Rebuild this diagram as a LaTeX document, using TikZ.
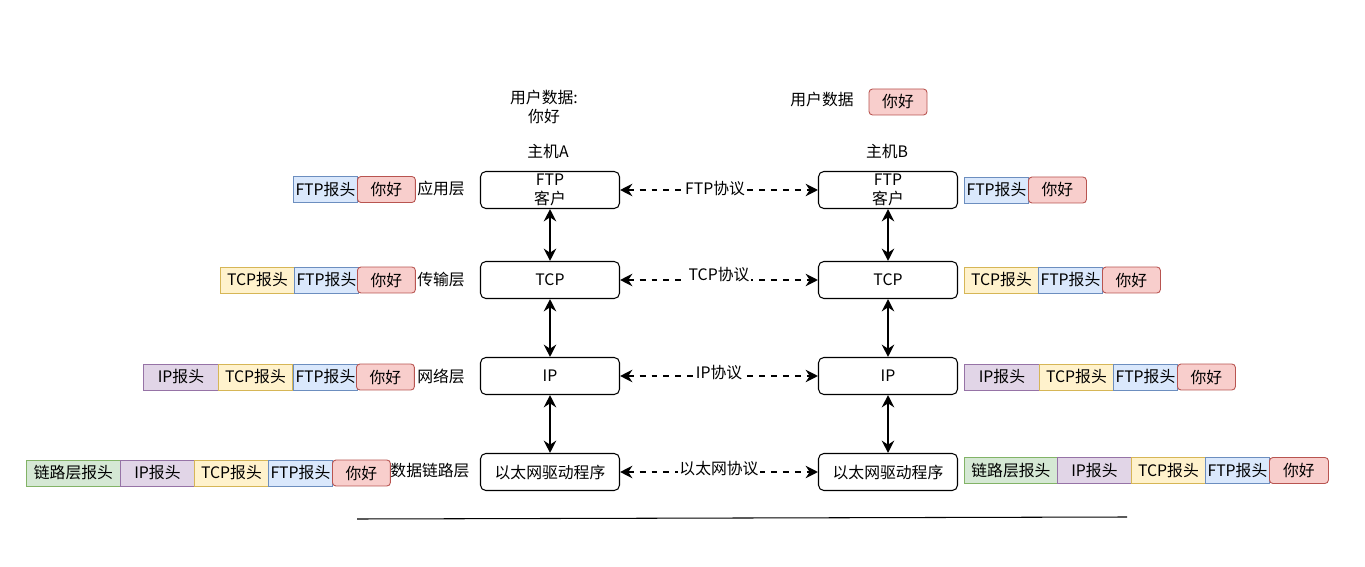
\documentclass[tikz,border=0pt]{standalone}
\usepackage{fontspec}
\setmainfont{Noto Sans CJK SC}
\usetikzlibrary{arrows.meta}
\definecolor{linkfill}{HTML}{D5E8D4}\definecolor{linkdraw}{HTML}{82B366}
\definecolor{ipfill}{HTML}{E1D5E7}\definecolor{ipdraw}{HTML}{9673A6}
\definecolor{tcpfill}{HTML}{FFF2CC}\definecolor{tcpdraw}{HTML}{D6B656}
\definecolor{ftpfill}{HTML}{DAE8FC}\definecolor{ftpdraw}{HTML}{6C8EBF}
\definecolor{datafill}{HTML}{F8CECC}\definecolor{datadraw}{HTML}{B85450}

\begin{document}
\begin{tikzpicture}[x=0.02cm,y=-0.02cm]
\tikzstyle{every node}+=[inner sep=0pt, font=\fontsize{9}{10.5}\selectfont]
\tikzstyle{layer}=[draw, rounded corners=3pt, line width=0.6pt, minimum width=2.78cm, minimum height=0.74cm, align=center]
\tikzstyle{hdr}=[draw, line width=0.5pt, minimum height=0.52cm, anchor=west]
\tikzstyle{linkhdr}=[hdr, fill=linkfill, draw=linkdraw, minimum width=1.88cm]
\tikzstyle{iphdr}=[hdr, fill=ipfill, draw=ipdraw, minimum width=1.5cm]
\tikzstyle{tcphdr}=[hdr, fill=tcpfill, draw=tcpdraw, minimum width=1.48cm]
\tikzstyle{ftphdr}=[hdr, fill=ftpfill, draw=ftpdraw, minimum width=1.28cm]
\tikzstyle{payload}=[hdr, fill=datafill, draw=datadraw, rounded corners=2pt, minimum width=1.16cm]
\tikzstyle{updown}=[line width=1.2pt, {Stealth[length=7pt,width=7pt]}-{Stealth[length=7pt,width=7pt]}]
\tikzstyle{peer}=[updown, dash pattern=on 3.4pt off 3.4pt]
\tikzstyle{proto}=[fill=white, inner sep=1pt]

\useasboundingbox (0,0) rectangle (1365,567);

% host A
\node (userA) at (544,107) [align=center] {用户数据:\\你好};
\node (hostA) at (548,151) {主机A};
\node[layer] (ftpA) at (550,190) {FTP\\客户};
\node[layer] (tcpA) at (550,280) {TCP};
\node[layer] (ipA) at (550,376) {IP};
\node[layer] (ethA) at (550,472) {以太网驱动程序};

% host B
\node (userB) at (822,100) {用户数据};
\node[payload, anchor=center] (dataB) at (898,102) {你好};
\node (hostB) at (887,151) {主机B};
\node[layer] (ftpB) at (888,190) {FTP\\客户};
\node[layer] (tcpB) at (888,280) {TCP};
\node[layer] (ipB) at (888,376) {IP};
\node[layer] (ethB) at (888,472) {以太网驱动程序};

% up and down the stacks
\draw[updown] (ftpA) -- (tcpA);
\draw[updown] (tcpA) -- (ipA);
\draw[updown] (ipA) -- (ethA);
\draw[updown] (ftpB) -- (tcpB);
\draw[updown] (tcpB) -- (ipB);
\draw[updown] (ipB) -- (ethB);

% peer protocols
\draw[peer] (ftpA) -- (ftpB) node[proto, pos=0.48, yshift=1pt] {FTP协议};
\draw[peer] (tcpA) -- (tcpB) node[proto, pos=0.5, yshift=3pt] {TCP协议};
\draw[peer] (ipA) -- (ipB) node[proto, pos=0.5, yshift=2pt] {IP协议};
\draw[peer] (ethA) -- (ethB) node[proto, pos=0.5, yshift=2pt] {以太网协议};

% layer names
\node (appL) at (441,189) {应用层};
\node (transL) at (441,280) {传输层};
\node (netL) at (441,376) {网络层};
\node (linkL) at (430,471) {数据链路层};

% packets on A
\node[ftphdr] (a1f) at (293,189.5) {FTP报头};
\node[payload] (a1d) at (357,189.5) {你好};

\node[tcphdr] (a2t) at (220,280) {TCP报头};
\node[ftphdr] (a2f) at (294,280) {FTP报头};
\node[payload] (a2d) at (357,280) {你好};

\node[iphdr] (a3i) at (143,377) {IP报头};
\node[tcphdr] (a3t) at (218,377) {TCP报头};
\node[ftphdr] (a3f) at (293,377) {FTP报头};
\node[payload] (a3d) at (356,377) {你好};

\node[linkhdr] (a4l) at (26,473) {链路层报头};
\node[iphdr, minimum width=1.48cm] (a4i) at (120,473) {IP报头};
\node[tcphdr] (a4t) at (194,473) {TCP报头};
\node[ftphdr] (a4f) at (268,473) {FTP报头};
\node[payload] (a4d) at (332,473) {你好};

% packets on B
\node[ftphdr] (b1f) at (964,190) {FTP报头};
\node[payload] (b1d) at (1028,190) {你好};

\node[tcphdr] (b2t) at (964,280) {TCP报头};
\node[ftphdr] (b2f) at (1038,280) {FTP报头};
\node[payload] (b2d) at (1102,280) {你好};

\node[iphdr] (b3i) at (964,377) {IP报头};
\node[tcphdr] (b3t) at (1039,377) {TCP报头};
\node[ftphdr] (b3f) at (1113,377) {FTP报头};
\node[payload] (b3d) at (1177,377) {你好};

\node[linkhdr, minimum width=1.86cm] (b4l) at (964,470.5) {链路层报头};
\node[iphdr, minimum width=1.48cm] (b4i) at (1057,470.5) {IP报头};
\node[tcphdr] (b4t) at (1131,470.5) {TCP报头};
\node[ftphdr] (b4f) at (1205,470.5) {FTP报头};
\node[payload, minimum width=1.18cm] (b4d) at (1269,470.5) {你好};

% base line
\coordinate (baseL) at (357,519);
\coordinate (baseR) at (1127,517);
\draw[line width=0.6pt] (baseL) -- (baseR);
\end{tikzpicture}
\end{document}
